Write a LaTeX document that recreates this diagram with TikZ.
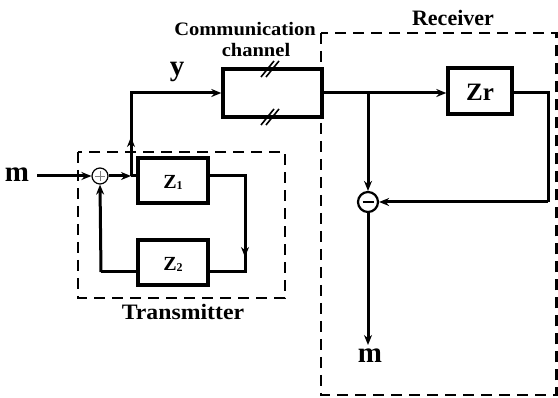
\documentclass[tikz,border=0pt]{standalone}
\usepackage{fontspec}
\setmainfont{Liberation Serif}
\usetikzlibrary{arrows.meta}
\begin{document}
\begin{tikzpicture}[x=1pt,y=-1pt,
  blk/.style={draw,line width=3.4pt,minimum width=#1,inner sep=0pt},
  wire/.style={line width=3pt},
  arr/.style={line width=3pt,-{Stealth[length=10pt,width=8pt]}},
  dbox/.style={draw,line width=2.2pt,dash pattern=on 11pt off 7pt},
  sumc/.style={circle,draw,line width=1.2pt,minimum size=#1,inner sep=0pt},
  lbl/.style={font=\bfseries\fontsize{#1}{#1}\selectfont,inner sep=0pt}]
\useasboundingbox (0,0) rectangle (558,398);
% dashed boxes
\draw[dbox] (78,152) rectangle (285,298);
\draw[dbox] (321,33) rectangle (556.5,395);
% blocks
\node[blk=70pt,minimum height=45pt] (z1) at (173,180.5) {};
\node[lbl=20] at (173,182) {Z\raisebox{-1pt}{\fontsize{12}{12}\selectfont 1}};
\node[blk=70pt,minimum height=45pt] (z2) at (173,262.5) {};
\node[lbl=20] at (173,264) {Z\raisebox{-1pt}{\fontsize{12}{12}\selectfont 2}};
\node[blk=99pt,minimum height=48pt] (ch) at (272.5,93) {};
\node[blk=64pt,minimum height=46pt] (zr) at (480,91) {};
\node[lbl=25] at (480,92) {Zr};
% summing junctions
\node[sumc=16pt] (sum) at (100,176) {};
\draw[line width=0.6pt,gray] ([xshift=-5pt]sum.center) -- ([xshift=5pt]sum.center)
  ([yshift=-5pt]sum.center) -- ([yshift=5pt]sum.center);
\node[sumc=20pt,line width=2.2pt] (dif) at (368,202) {};
\draw[line width=1.4pt] ([xshift=-5.5pt]dif.center) -- ([xshift=5.5pt]dif.center);
% labels
\node[lbl=29] (min) at (17,175) {m};
\node[lbl=29] (ylab) at (177,72) {y};
\node[lbl=29] (mout) at (370,356) {m};
\node[lbl=19,xscale=1.08] (cl1) at (245,29) {Communication};
\node[lbl=19,xscale=1.08] (cl2) at (256,50) {channel};
\node[lbl=22] (rl) at (453,18) {Receiver};
\node[lbl=22,xscale=1.08] (tl) at (183,312) {Transmitter};
% coordinates
\coordinate (br) at (131,176);
\coordinate (up) at (131,137);
\coordinate (c1) at (245,176);
\coordinate (c2) at (245,257);
\coordinate (c3) at (245,272);
\coordinate (c4) at (101,272);
\coordinate (rb) at (368,93);
\coordinate (rr) at (548,93);
\coordinate (rd) at (548,202);
\coordinate (mo) at (368,345);
\coordinate (mi) at (37,176);
% transmitter wiring
\draw[arr] (mi) -- (sum.west);
\draw[arr] (sum.east) -- (br);
\draw[wire] (br) -- (br -| z1.west);
\draw[wire] (c1 -| z1.east) -- (c1) -- ([yshift=-1pt]c2);
\draw[arr] (c1) -- (c2);
\draw[wire] (c2) -- (c3) -- (c3 -| z2.east);
\draw[wire] (c4 -| z2.west) -- (c4);
\draw[arr] (c4) -- (sum.south);
\draw[wire] (br) -- (up);
\draw[arr] (br) -- (up);
\draw[arr] (up) |- (ch.west);
% channel slashes
\foreach \yy in {69,117}{
  \draw[line width=1.6pt] (261,\yy+8) -- (274,\yy-8) (266,\yy+8) -- (279,\yy-8);
}
% receiver wiring
\draw[wire] (ch.east) -- (rb);
\draw[arr] (rb) -- (rb -| zr.west);
\draw[arr] (rb) -- (dif.north);
\draw[wire] (rb -| zr.east) -- (rr) -- (rd);
\draw[arr] (rd) -- (dif.east);
\draw[arr] (dif.south) -- (mo);
\end{tikzpicture}
\end{document}
